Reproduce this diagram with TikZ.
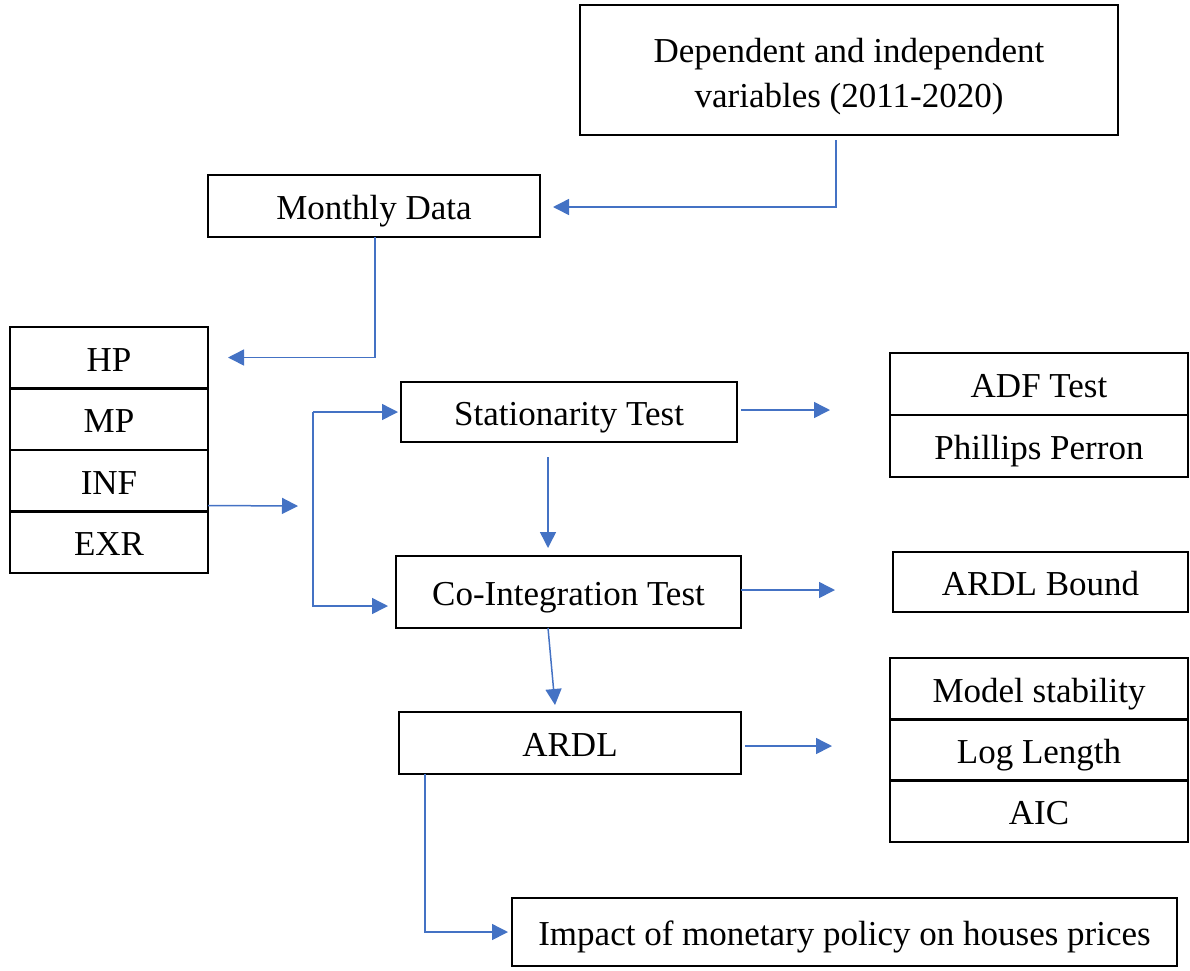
\documentclass[tikz,border=0pt]{standalone}
\usepackage{fontspec}
\setmainfont{Liberation Serif}
\usepackage{tikz}
\usetikzlibrary{arrows.meta,positioning}
\definecolor{flowblue}{HTML}{4472C4}

\begin{document}
\begin{tikzpicture}[x=1pt,y=-1pt,
  font=\fontsize{35}{45}\selectfont,
  box/.style={draw,line width=2.5pt,outer sep=0pt,align=center,inner sep=0pt,
    text height=27pt,text depth=0pt},
  flow/.style={draw=flowblue,line width=1.5pt,-{Triangle[length=16pt,width=16pt]}}]
\useasboundingbox (0,0) rectangle (1190,970);
% sources
\node[box,minimum width=538,minimum height=130,text height=74pt] (dep) at (849,70)
  {Dependent and independent\\variables (2011-2020)};
\node[box,minimum width=332,minimum height=62] (month) at (374,206) {Monthly Data};
% variables
\node[box,minimum width=198,minimum height=61.5] (hp) at (109,357.5) {HP};
\node[box,minimum width=198,minimum height=61.5,below=0pt of hp] (mp) {MP};
\node[box,minimum width=198,minimum height=61.5,below=0pt of mp] (inf) {INF};
\node[box,minimum width=198,minimum height=61.5,below=0pt of inf] (exr) {EXR};
% tests
\node[box,minimum width=336,minimum height=60] (stat) at (569,412) {Stationarity Test};
\node[box,minimum width=345,minimum height=72] (coint) at (568.5,592) {Co-Integration Test};
\node[box,minimum width=342,minimum height=62] (ardl) at (570,743) {ARDL};
% methods
\node[box,minimum width=298,minimum height=62] (adf) at (1039,384) {ADF Test};
\node[box,minimum width=298,minimum height=62,below=0pt of adf] (pp) {Phillips Perron};
\node[box,minimum width=295,minimum height=60] (bound) at (1040.5,582) {ARDL Bound};
\node[box,minimum width=298,minimum height=61.3] (stab) at (1039,688.7) {Model stability};
\node[box,minimum width=298,minimum height=61.3,below=0pt of stab] (lag) {Log Length};
\node[box,minimum width=298,minimum height=61.3,below=0pt of lag] (aic) {AIC};
\node[box,minimum width=665,minimum height=68] (impact) at (844.5,932)
  {Impact of monetary policy on houses prices};
% connectors
\coordinate (join) at (298,506);
\coordinate (fork) at (313,412);
\draw[flow] ([xshift=-13pt,yshift=-5pt]dep.south) |- ([xshift=13pt,yshift=-1pt]month.east);
\draw[flow] ([xshift=1pt]month.south) |- ([xshift=20pt]hp.east);
\draw[flow] ([yshift=-25pt]inf.east) -- (join);
\draw[flow] (fork) -- ([xshift=-3pt]stat.west);
\draw[flow] (fork) |- ([xshift=-8pt,yshift=-14pt]coint.west);
\draw[flow] ([xshift=4pt,yshift=2pt]stat.east) -- ([xshift=-60pt,yshift=2pt]stat.east -| adf.west);
\draw[flow] ([xshift=-21pt,yshift=-15pt]stat.south) -- ([xshift=-20.5pt,yshift=8pt]coint.north);
\draw[flow] ([yshift=2pt]coint.east) -- ([xshift=-58pt,yshift=2pt]coint.east -| bound.west);
\draw[flow] ([xshift=-20.5pt]coint.south) -- ([xshift=-15pt,yshift=7pt]ardl.north);
\draw[flow] ([xshift=4pt,yshift=-3pt]ardl.east) -- ([xshift=-58pt,yshift=-3pt]ardl.east -| lag.west);
\draw[flow] ([xshift=-145pt]ardl.south) |- ([xshift=-4pt]impact.west);
\end{tikzpicture}
\end{document}
